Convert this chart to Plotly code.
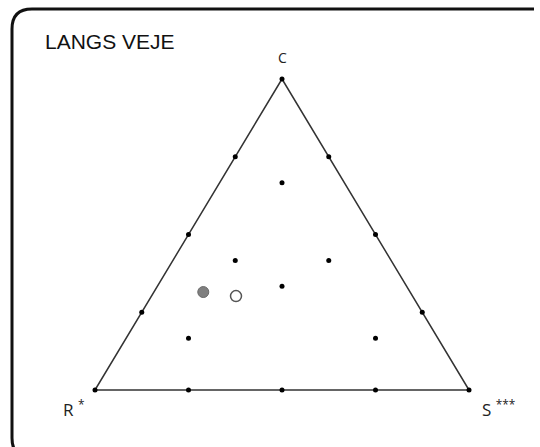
import plotly.graph_objects as go

# Ternary data (fractions of C, R, S)
vertex_labels = ["C", "R <sup>*</sup>", "S <sup>***</sup>"]
title_text = "LANGS VEJE"

grid_C = [1, 0, 0,
          0.75, 0.5, 0.25, 0.75, 0.5, 0.25, 0, 0, 0,
          2/3, 5/12, 5/12, 1/3, 1/6, 1/6]
grid_R = [0, 1, 0,
          0.25, 0.5, 0.75, 0, 0, 0, 0.75, 0.5, 0.25,
          1/6, 5/12, 1/6, 1/3, 2/3, 1/6]
grid_S = [0, 0, 1,
          0, 0, 0, 0.25, 0.5, 0.75, 0.25, 0.5, 0.75,
          1/6, 1/6, 5/12, 1/3, 1/6, 2/3]

edge_C = [1, 0, 0, 1]
edge_R = [0, 1, 0, 0]
edge_S = [0, 0, 1, 0]

filled_C, filled_R, filled_S = [0.315], [0.553], [0.132]
open_C, open_R, open_S = [0.302], [0.472], [0.226]


def tx(c, r, s):
    return [si + ci / 2 for ci, si in zip(c, s)]


def ty(c, r, s):
    return list(c)


W, H = 540, 447
X0, XW = 95, 374   # pixel of R vertex, triangle width
Y0, YH = 390, 311  # pixel baseline, triangle height

fig = go.Figure()
fig.add_trace(go.Scatter(x=tx(edge_C, edge_R, edge_S), y=ty(edge_C, edge_R, edge_S),
                         mode="lines", line=dict(color="#333333", width=1.5),
                         hoverinfo="skip", showlegend=False))
fig.add_trace(go.Scatter(x=tx(grid_C, grid_R, grid_S), y=ty(grid_C, grid_R, grid_S),
                         mode="markers", marker=dict(color="black", size=5),
                         showlegend=False))
fig.add_trace(go.Scatter(x=tx(filled_C, filled_R, filled_S), y=ty(filled_C, filled_R, filled_S),
                         mode="markers",
                         marker=dict(color="#7f7f7f", size=11, line=dict(color="#6a6a6a", width=1)),
                         showlegend=False))
fig.add_trace(go.Scatter(x=tx(open_C, open_R, open_S), y=ty(open_C, open_R, open_S),
                         mode="markers",
                         marker=dict(color="white", size=11, line=dict(color="#555555", width=1.5)),
                         showlegend=False))


def px(x):
    return x / W


def py(y):
    return 1 - y / H


# rounded frame: left and top edges as separate line shapes plus corner arcs
L, T, B, rad = 12, 9, 458, 20
corner_tl = (f"M {px(L)},{py(T + rad)} Q {px(L)},{py(T)} {px(L + rad)},{py(T)}")
corner_bl = (f"M {px(L)},{py(B - rad)} Q {px(L)},{py(B)} {px(L + rad)},{py(B)}")
frame_style = dict(color="#111111", width=3)
fig.add_shape(type="path", path=corner_tl, xref="paper", yref="paper", line=frame_style)
fig.add_shape(type="path", path=corner_bl, xref="paper", yref="paper", line=frame_style)
fig.add_shape(type="line", x0=px(L), x1=px(L), y0=py(T + rad), y1=py(B - rad),
              xref="paper", yref="paper", line=frame_style)
fig.add_shape(type="line", x0=px(L + rad), x1=px(534), y0=py(T), y1=py(T),
              xref="paper", yref="paper", line=frame_style)

fig.add_annotation(x=px(43), y=py(42), xref="paper", yref="paper", text=title_text,
                   showarrow=False, xanchor="left", yanchor="middle",
                   font=dict(family="Liberation Sans, Arial", size=21, color="#111111"))
lab_font = dict(family="Open Sans, DejaVu Sans", size=17, color="#222222")
fig.add_annotation(x=px(282), y=py(58), xref="paper", yref="paper", text=vertex_labels[0],
                   showarrow=False, xanchor="center", yanchor="middle",
                   font=dict(family="Open Sans, DejaVu Sans", size=14, color="#222222"))
fig.add_annotation(x=px(61), y=py(408), xref="paper", yref="paper", text=vertex_labels[1],
                   showarrow=False, xanchor="left", yanchor="middle", font=lab_font)
fig.add_annotation(x=px(480), y=py(408), xref="paper", yref="paper", text=vertex_labels[2],
                   showarrow=False, xanchor="left", yanchor="middle", font=lab_font)

fig.update_layout(
    width=W, height=H, margin=dict(l=0, r=0, t=0, b=0),
    paper_bgcolor="white", plot_bgcolor="white",
    xaxis=dict(visible=False, range=[-X0 / XW, (W - X0) / XW], fixedrange=True),
    yaxis=dict(visible=False, range=[(Y0 - H) / YH, Y0 / YH], fixedrange=True),
)

fig.write_html("out.html", config=dict(displayModeBar=False),
               post_script="document.body.style.margin='0';document.body.style.padding='0';document.body.style.overflow='hidden';")
